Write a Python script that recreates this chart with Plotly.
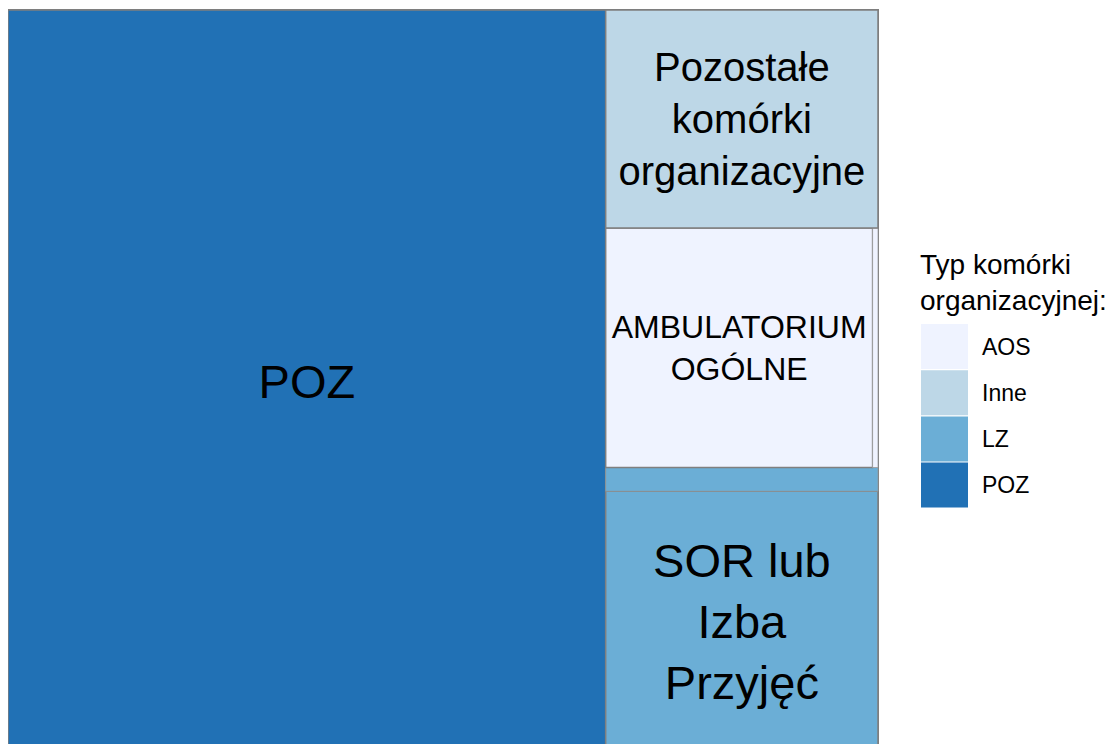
import plotly.graph_objects as go

# typy komórek organizacyjnych (grupy) i ich kolory
types = ["AOS", "Inne", "LZ", "POZ"]
type_colors = ["#EFF3FF", "#BDD7E7", "#6BAED6", "#2171B5"]

# komórki (liście drzewa)
cells = ["AMBULATORIUM OGÓLNE", "Inne AOS", "Pozostałe komórki organizacyjne",
         "SOR lub Izba Przyjęć", "Inne LZ", "POZ"]
cell_types = ["AOS", "AOS", "Inne", "LZ", "LZ", "POZ"]
cell_values = [9.9, 0.2, 9.2, 11.0, 1.0, 68.7]
cell_text = ["AMBULATORIUM<br>OGÓLNE", "", "Pozostałe<br>komórki<br>organizacyjne",
             "SOR lub<br>Izba<br>Przyjęć", "", "POZ"]
cell_font = [32, 10, 40, 47, 10, 47]

W, H = 1110, 744
M = dict(l=0, r=240, t=2, b=0)
OFF = 8  # domyślny margines <body> strony
FONT = "Liberation Sans, Arial, sans-serif"


def px(x, y):
    """piksel okna -> współrzędne paper"""
    pw = W - M["l"] - M["r"]
    ph = H - M["t"] - M["b"]
    return (x - OFF - M["l"]) / pw, (OFF + M["t"] + ph - y) / ph


color_of = dict(zip(types, type_colors))

ids = ["g_" + t for t in types] + ["c_%d" % i for i in range(len(cells))]
labels = types + cells
parents = [""] * len(types) + ["g_" + t for t in cell_types]
values = [0] * len(types) + cell_values
texts = [""] * len(types) + cell_text
colors = type_colors + [color_of[t] for t in cell_types]
fsizes = [10] * len(types) + cell_font
lcolors = ["#7f7f7f"] * len(types) + [
    "rgba(150,150,150,0.7)" if v < 2 else "#7f7f7f" for v in cell_values]
lwidths = [2] * len(types) + [1 if v < 2 else 1.5 for v in cell_values]

fig = go.Figure(go.Treemap(
    ids=ids, labels=labels, parents=parents, values=values, text=texts,
    branchvalues="remainder",
    texttemplate="%{text}",
    textposition="middle center",
    textfont=dict(family=FONT, color="black", size=fsizes),
    marker=dict(colors=colors, line=dict(color=lcolors, width=lwidths),
                pad=dict(t=0, l=0, r=0, b=0)),
    tiling=dict(flip="y", pad=0),
    pathbar=dict(visible=False),
    hoverinfo="label+value",
    sort=True,
))

# legenda
shapes = []
annotations = []
x0, x1 = 921, 968
for i, (t, c) in enumerate(zip(types, type_colors)):
    top = 324 + i * 46.2
    bot = top + 45
    ax0, ay0 = px(x0, bot)
    ax1, ay1 = px(x1, top)
    shapes.append(dict(type="rect", xref="paper", yref="paper",
                       x0=ax0, x1=ax1, y0=ay0, y1=ay1,
                       fillcolor=c, line=dict(width=0)))
    lx, ly = px(980, (top + bot) / 2)
    annotations.append(dict(xref="paper", yref="paper", x=lx, y=ly,
                            xanchor="left", yanchor="middle", showarrow=False,
                            text=t, font=dict(family=FONT, size=23, color="black")))

tx, ty = px(918, 247)
annotations.append(dict(xref="paper", yref="paper", x=tx, y=ty,
                        xanchor="left", yanchor="top", showarrow=False, align="left",
                        text="Typ komórki<br>organizacyjnej:",
                        font=dict(family=FONT, size=28, color="black")))

fig.update_layout(
    width=W, height=H, margin=M,
    paper_bgcolor="white", plot_bgcolor="white",
    shapes=shapes, annotations=annotations,
    showlegend=False,
)

fig.write_html("out.html")
